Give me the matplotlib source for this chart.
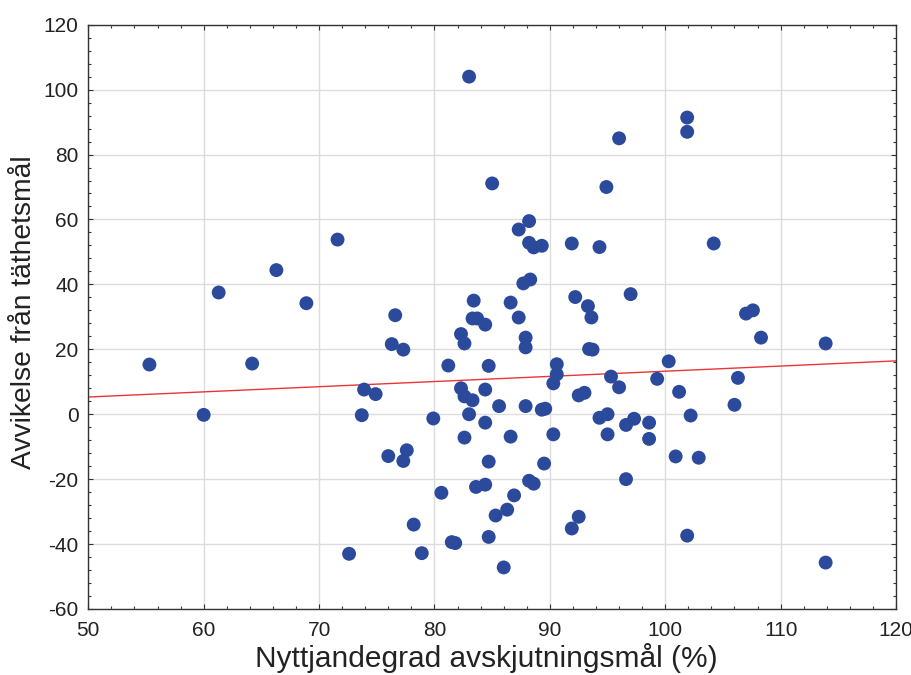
import numpy as np
import matplotlib
matplotlib.use('Agg')
import matplotlib.pyplot as plt
from matplotlib.ticker import MultipleLocator

# Nyttjandegrad avskjutningsmål (%) och avvikelse från täthetsmål
nyttjande = [55.3, 60.0, 61.3, 64.2, 66.3, 68.9, 71.6, 72.6, 73.7, 73.9,
             74.9, 76.0, 76.3, 76.6, 77.3, 77.3, 77.6, 78.2, 78.9, 79.9,
             80.6, 81.2, 81.5, 81.8, 82.3, 82.6, 82.3, 82.6, 82.6, 83.0,
             83.0, 83.3, 83.4, 83.3, 83.7, 83.6, 84.4, 84.4, 84.4, 84.4,
             84.7, 84.7, 84.7, 85.0, 85.3, 85.6, 86.0, 86.3, 86.6, 86.6,
             86.9, 87.3, 87.3, 87.7, 87.9, 87.9, 87.9, 88.2, 88.2, 88.3,
             88.2, 88.6, 88.6, 89.3, 89.3, 89.6, 89.5, 90.3, 90.3, 90.6,
             90.6, 91.9, 91.9, 92.2, 92.5, 93.0, 92.5, 93.3, 93.6, 93.4,
             93.7, 94.3, 94.3, 94.9, 95.0, 95.0, 95.3, 96.0, 96.0, 96.6,
             96.6, 97.0, 97.3, 98.6, 98.6, 99.3, 100.3, 100.9, 101.2, 101.9,
             101.9, 101.9, 102.2, 102.9, 104.2, 106.0, 106.3, 107.0, 107.6, 108.3,
             113.9, 113.9]
avvikelse = [15.3, -0.2, 37.5, 15.6, 44.4, 34.2, 53.8, -43.0, -0.3, 7.6,
             6.2, -12.9, 21.6, 30.5, 19.9, -14.4, -11.1, -34.0, -42.8, -1.3,
             -24.2, 15.0, -39.4, -39.7, 24.7, 21.8, 8.0, 5.5, -7.2, 104.0,
             0.0, 4.3, 35.0, 29.5, 29.5, -22.4, 27.6, 7.6, -2.6, -21.7,
             14.9, -14.6, -37.8, 71.1, -31.2, 2.5, -47.2, -29.4, 34.4, -6.9,
             -25.0, 56.9, 29.8, 40.3, 23.6, 20.6, 2.5, 59.5, 52.8, 41.5,
             -20.5, 51.4, -21.4, 51.9, 1.4, 1.7, -15.2, 9.5, -6.2, 15.4,
             12.3, 52.6, -35.2, 36.1, 5.8, 6.6, -31.6, 33.3, 29.8, 20.1,
             19.9, 51.5, -1.1, 70.0, 0.0, -6.2, 11.6, 85.0, 8.3, -3.3,
             -20.0, 37.0, -1.4, -2.6, -7.6, 10.9, 16.3, -13.0, 6.9, 91.4,
             87.0, -37.4, -0.4, -13.4, 52.6, 2.9, 11.2, 31.0, 32.0, 23.6,
             21.8, -45.7]

# regressionslinje (lutning, intercept)
lutning = 0.159
intercept = -2.65

plt.rcParams['font.family'] = ['Liberation Sans', 'DejaVu Sans']
plt.rcParams['axes.unicode_minus'] = False

fig = plt.figure(figsize=(9.12, 6.75), dpi=100)
ax = fig.add_axes([0.0968, 0.0978, 0.8857, 0.8656])

ax.grid(True, color='#dcdcdc', linewidth=1.0, zorder=0)
ax.set_axisbelow(True)

x_fit = np.array([50, 120])
ax.plot(x_fit, lutning * x_fit + intercept, color='#e8353b', linewidth=1.0, zorder=2)
ax.scatter(nyttjande, avvikelse, s=100, color='#2b4a9c', edgecolors='none', zorder=3)

ax.set_xlim(50, 120)
ax.set_ylim(-60, 120)
ax.xaxis.set_major_locator(MultipleLocator(10))
ax.xaxis.set_minor_locator(MultipleLocator(2))
ax.yaxis.set_major_locator(MultipleLocator(20))
ax.yaxis.set_minor_locator(MultipleLocator(4))

ax.tick_params(which='both', direction='in', top=True, right=True,
               labelsize=15, labelcolor='#222222', color='#333333', width=0.8)
ax.tick_params(which='major', length=3.5)
ax.tick_params(which='minor', length=2.5)
ax.tick_params(axis='x', which='major', pad=9)
ax.tick_params(axis='y', which='major', pad=7)
for sp in ax.spines.values():
    sp.set_linewidth(1.0)
    sp.set_color('#333333')

ax.set_xlabel('Nyttjandegrad avskjutningsmål (%)', fontsize=21.5, color='#222222', labelpad=2)
ax.xaxis.label.set_x(0.493)
ax.set_ylabel('Avvikelse från täthetsmål', fontsize=20.3, color='#222222')
ax.yaxis.set_label_coords(-0.063, 0.508)

fig.savefig('out.png', dpi=100)
